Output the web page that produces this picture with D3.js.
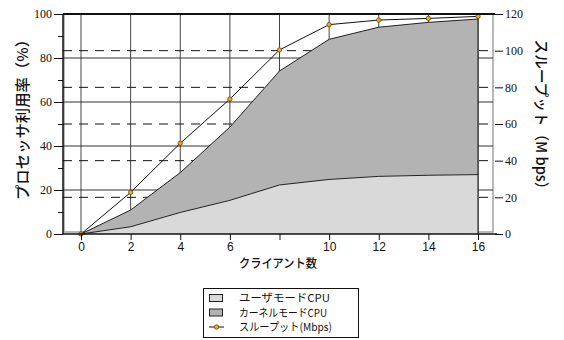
<!DOCTYPE html>
<html><head><meta charset="utf-8">
<script src="https://cdn.jsdelivr.net/npm/d3@7"></script>
<style>
html,body{margin:0;padding:0;background:#fff;}
svg{display:block;}
</style></head>
<body>
<script>
// ---- data ----
const clients = [0, 2, 4, 6, 8, 10, 12, 14, 16];
const userCPU = [0, 3.3, 9.8, 15.3, 22.3, 24.8, 26.2, 26.7, 27.0];
const kernelCPU = [0, 7.6, 18.1, 33.3, 51.8, 63.7, 67.8, 69.5, 70.7];
const throughput = [0, 22.7, 49.5, 73.6, 100.4, 114.2, 116.7, 117.6, 118.7];
const xTickLabels = ["0", "2", "4", "6", "", "10", "12", "14", "16"];
const leftTicks = [0, 20, 40, 60, 80, 100];
const leftMinorTicks = [10, 30, 50, 70, 90];
const rightTicks = [0, 20, 40, 60, 80, 100, 120];
const legendLabels = ["ユーザモードCPU", "カーネルモードCPU", "スループット(Mbps)"];

const W = 564, H = 340;
const L = 63, R = 495, T = 14, B = 234;
const svg = d3.select("body").append("svg").attr("width", W).attr("height", H);

const x = d3.scaleLinear().domain([0, 16]).range([81, 478]);
const y = d3.scaleLinear().domain([0, 100]).range([B, T]);
const y2 = d3.scaleLinear().domain([0, 120]).range([B, T]);

const light = "#d9d9d9", dark = "#b3b3b3";

// inner gray frame
svg.append("rect").attr("x", L + 1).attr("y", T).attr("width", R - 2 - L - 1).attr("height", B - 2 - T)
  .attr("fill", "none").attr("stroke", "#a0a0a0").attr("stroke-width", 1.5);

// vertical grid
svg.append("g").selectAll("line").data(clients).join("line")
  .attr("x1", d => x(d)).attr("x2", d => x(d)).attr("y1", T).attr("y2", B)
  .attr("stroke", "#444").attr("stroke-width", 1);
// solid horizontal grid (left axis)
svg.append("g").selectAll("line").data(leftTicks.filter(d => d > 0 && d < 100)).join("line")
  .attr("x1", L).attr("x2", R - 2).attr("y1", d => y(d)).attr("y2", d => y(d))
  .attr("stroke", "#333").attr("stroke-width", 1);
// dashed horizontal grid (right axis)
svg.append("g").selectAll("line").data(rightTicks.filter(d => d > 0 && d < 120)).join("line")
  .attr("x1", L).attr("x2", R).attr("y1", d => y2(d)).attr("y2", d => y2(d))
  .attr("stroke", "#111").attr("stroke-width", 1).attr("stroke-dasharray", "9,7");

// stacked areas
const rows = clients.map((c, i) => ({ c, user: userCPU[i], kernel: kernelCPU[i] }));
const stack = d3.stack().keys(["user", "kernel"])(rows);
const area = d3.area().x(d => x(d.data.c)).y0(d => y(d[0])).y1(d => y(d[1]));
const lineTop = d3.line().x(d => x(d.data.c)).y(d => y(d[1]));
svg.append("path").datum(stack[1]).attr("d", area).attr("fill", dark);
svg.append("path").datum(stack[0]).attr("d", area).attr("fill", light);
svg.append("path").datum(stack[1]).attr("d", lineTop).attr("fill", "none").attr("stroke", "#222").attr("stroke-width", 1);
svg.append("path").datum(stack[0]).attr("d", lineTop).attr("fill", "none").attr("stroke", "#222").attr("stroke-width", 1);
// x=16 boundary line
svg.append("line").attr("x1", x(16)).attr("x2", x(16)).attr("y1", T).attr("y2", B).attr("stroke", "#111");

// throughput line
const tp = clients.map((c, i) => [c, throughput[i]]);
svg.append("path").datum(tp)
  .attr("d", d3.line().x(d => x(d[0])).y(d => y2(d[1])))
  .attr("fill", "none").attr("stroke", "#111").attr("stroke-width", 1);
svg.append("g").selectAll("circle").data(tp).join("circle")
  .attr("cx", d => x(d[0])).attr("cy", d => y2(d[1])).attr("r", 2.2)
  .attr("fill", "#f5a623").attr("stroke", "#6b4a00").attr("stroke-width", 0.8);

// frame lines
svg.append("line").attr("x1", L).attr("x2", R).attr("y1", T).attr("y2", T).attr("stroke", "#111").attr("stroke-width", 2);

// left axis
const gL = svg.append("g").attr("transform", `translate(${L},0)`)
  .call(d3.axisLeft(y).tickValues(leftTicks).tickSize(9).tickPadding(2).tickFormat(d3.format("d")));
gL.select(".domain").attr("stroke", "#111").attr("stroke-width", 1.5).attr("d", `M0,${T}V${B}`);
gL.selectAll("text").attr("font-family", "Liberation Serif").attr("font-size", 12).attr("fill", "#111");
gL.selectAll(".tick line").attr("stroke", "#111");
svg.append("g").attr("transform", `translate(${L},0)`)
  .call(d3.axisLeft(y).tickValues(leftMinorTicks).tickSize(5).tickFormat(""))
  .call(g => g.select(".domain").remove())
  .selectAll("line").attr("stroke", "#111");

// right axis (ticks only)
const gR = svg.append("g").attr("transform", `translate(${R},0)`)
  .call(d3.axisRight(y2).tickValues(rightTicks).tickSize(8).tickPadding(2).tickFormat(d3.format("d")));
gR.select(".domain").remove();
gR.selectAll("text").attr("font-family", "Liberation Serif").attr("font-size", 12).attr("fill", "#111");
gR.selectAll(".tick line").attr("stroke", "#111");

// bottom axis
const gB = svg.append("g").attr("transform", `translate(0,${B})`)
  .call(d3.axisBottom(x).tickValues(clients).tickSize(6).tickPadding(2).tickFormat((d, i) => xTickLabels[i]));
gB.select(".domain").attr("stroke", "#111").attr("stroke-width", 1.5).attr("d", `M${L},0H${R + 2}`);
gB.selectAll("text").attr("font-family", "Liberation Sans").attr("font-size", 12).attr("fill", "#111");
gB.selectAll(".tick line").attr("stroke", "#111");

// axis titles
const jp = "'Noto Sans CJK JP', sans-serif";
svg.append("text").attr("x", 278).attr("y", 268).attr("text-anchor", "middle")
  .attr("font-family", jp).attr("font-size", 12.5).attr("font-weight", 500).attr("fill", "#111")
  .attr("textLength", 78).attr("lengthAdjust", "spacingAndGlyphs").text("クライアント数");
svg.append("text").attr("transform", "translate(28,116) rotate(-90)").attr("text-anchor", "middle")
  .attr("font-family", jp).attr("font-size", 15).attr("font-weight", 500).attr("fill", "#111")
  .attr("textLength", 168).attr("lengthAdjust", "spacingAndGlyphs").text("プロセッサ利用率（%）");
svg.append("text").attr("transform", "translate(536,118) rotate(90)").attr("text-anchor", "middle")
  .attr("font-family", jp).attr("font-size", 15).attr("font-weight", 500).attr("fill", "#111")
  .attr("textLength", 157).attr("lengthAdjust", "spacingAndGlyphs").text("スループット（M bps）");

// legend
const lg = svg.append("g");
lg.append("rect").attr("x", 203.5).attr("y", 288.5).attr("width", 155).attr("height", 49)
  .attr("fill", "#fff").attr("stroke", "#111").attr("stroke-width", 1);
const rowY = [298, 312.5, 327];
[light, dark].forEach((c, i) => {
  lg.append("rect").attr("x", 209.5).attr("y", rowY[i] - 3.5).attr("width", 13).attr("height", 7)
    .attr("fill", c).attr("stroke", "#222").attr("stroke-width", 1);
});
lg.append("line").attr("x1", 209).attr("x2", 224).attr("y1", rowY[2]).attr("y2", rowY[2]).attr("stroke", "#111");
lg.append("circle").attr("cx", 216.5).attr("cy", rowY[2]).attr("r", 2.2)
  .attr("fill", "#f5a623").attr("stroke", "#6b4a00").attr("stroke-width", 0.8);
const lens = [91, 88, 93];
legendLabels.forEach((t, i) => {
  lg.append("text").attr("x", 239).attr("y", rowY[i] + 4).attr("font-family", jp).attr("font-size", 11)
    .attr("fill", "#111").attr("textLength", lens[i]).attr("lengthAdjust", "spacingAndGlyphs").text(t);
});
</script>
</body></html>
